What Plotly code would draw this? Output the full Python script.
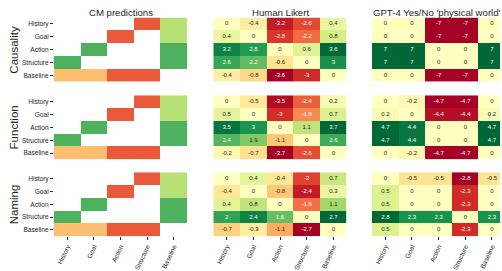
import plotly.graph_objects as go

labels = ["History", "Goal", "Action", "Structure", "Baseline"]
row_names = ["Causality", "Function", "Naming"]
panel_titles = ["CM predictions", "Human Likert", "GPT-4 Yes/No 'physical world'"]

N = None
cm_pred = [
    [N, N, N, -1, 0.5],
    [N, N, -1, N, 0.5],
    [N, 1, N, N, 1],
    [1, N, N, N, 1],
    [-0.5, -0.5, -1, -1, N],
]
cm_range = 1.5

human_causality = [
    [0, -0.4, -3.2, -2.6, 0.4],
    [0.4, 0, -2.8, -2.2, 0.8],
    [3.2, 2.8, 0, 0.6, 3.6],
    [2.6, 2.2, -0.6, 0, 3],
    [-0.4, -0.8, -3.6, -3, 0],
]
human_function = [
    [0, -0.5, -3.5, -2.4, 0.2],
    [0.5, 0, -3, -1.9, 0.7],
    [3.5, 3, 0, 1.1, 3.7],
    [2.4, 1.9, -1.1, 0, 2.6],
    [-0.2, -0.7, -3.7, -2.6, 0],
]
human_naming = [
    [0, 0.4, -0.4, -2, 0.7],
    [-0.4, 0, -0.8, -2.4, 0.3],
    [0.4, 0.8, 0, -1.6, 1.1],
    [2, 2.4, 1.6, 0, 2.7],
    [-0.7, -0.3, -1.1, -2.7, 0],
]
gpt_causality = [
    [0, 0, -7, -7, 0],
    [0, 0, -7, -7, 0],
    [7, 7, 0, 0, 7],
    [7, 7, 0, 0, 7],
    [0, 0, -7, -7, 0],
]
gpt_function = [
    [0, -0.2, -4.7, -4.7, 0],
    [0.2, 0, -4.4, -4.4, 0.2],
    [4.7, 4.4, 0, 0, 4.7],
    [4.7, 4.4, 0, 0, 4.7],
    [0, -0.2, -4.7, -4.7, 0],
]
gpt_naming = [
    [0, -0.5, -0.5, -2.8, -0.5],
    [0.5, 0, 0, -2.3, 0],
    [0.5, 0, 0, -2.3, 0],
    [2.8, 2.3, 2.3, 0, 2.3],
    [0.5, 0, 0, -2.3, 0],
]

panels = [
    [cm_pred, human_causality, gpt_causality],
    [cm_pred, human_function, gpt_function],
    [cm_pred, human_naming, gpt_naming],
]

RDYLGN = ["#a50026", "#d73027", "#f46d43", "#fdae61", "#fee08b", "#ffffbf",
          "#d9ef8b", "#a6d96a", "#66bd63", "#1a9850", "#006837"]
colorscale = [[i / 10, c] for i, c in enumerate(RDYLGN)]


def hex2rgb(h):
    return tuple(int(h[i:i + 2], 16) for i in (1, 3, 5))


def color_at(t):
    t = min(max(t, 0.0), 1.0)
    k = min(int(t * 10), 9)
    f = t * 10 - k
    a, b = hex2rgb(RDYLGN[k]), hex2rgb(RDYLGN[k + 1])
    return tuple(a[j] + (b[j] - a[j]) * f for j in range(3))


def luminance(rgb):
    out = []
    for c in rgb:
        c = c / 255
        out.append(c / 12.92 if c <= 0.03928 else ((c + 0.055) / 1.055) ** 2.4)
    return 0.2126 * out[0] + 0.7152 * out[1] + 0.0722 * out[2]


W, H = 502, 271
FONT = "Liberation Sans, Arial, sans-serif"
DARK = "#262626"

col_px = [(54, 187), (213.3, 346.7), (372, 500)]
row_px = [(17.7, 82.3), (96, 160.7), (173.5, 238)]

fig = go.Figure()
annotations = []

idx = 0
for r in range(3):
    for c in range(3):
        idx += 1
        xa = "x" if idx == 1 else f"x{idx}"
        ya = "y" if idx == 1 else f"y{idx}"
        z = panels[r][c]
        if c == 0:
            vmax = cm_range
        else:
            vmax = max(abs(v) for row in z for v in row)
        fig.add_trace(go.Heatmap(
            z=z, x=labels, y=labels, xaxis=xa, yaxis=ya,
            colorscale=colorscale, zmin=-vmax, zmax=vmax,
            showscale=False, hoverinfo="skip", xgap=0, ygap=0,
        ))
        if c > 0:
            tx, ty, tt, tc = [], [], [], []
            for i, row in enumerate(z):
                for j, v in enumerate(row):
                    tx.append(labels[j])
                    ty.append(labels[i])
                    tt.append(f"{v:g}")
                    lum = luminance(color_at(0.5 + v / (2 * vmax)))
                    tc.append(DARK if lum > 0.408 else "white")
            fig.add_trace(go.Scatter(
                x=tx, y=ty, text=tt, mode="text", xaxis=xa, yaxis=ya,
                textfont=dict(size=6, color=tc, family=FONT),
                hoverinfo="skip", showlegend=False,
            ))
        x0, x1 = col_px[c]
        y0, y1 = row_px[r]
        xrange = [-0.5, 4.5] if c < 2 else [-0.5, 4.5 - (505.3 - x1) / 26.67]
        fig.layout[("xaxis" if idx == 1 else f"xaxis{idx}")] = dict(
            domain=[x0 / W, x1 / W], anchor=ya, type="category",
            categoryorder="array", categoryarray=labels,
            range=xrange, showgrid=False, zeroline=False, showline=False,
            showticklabels=(r == 2), ticks="outside" if r == 2 else "",
            ticklen=3, tickwidth=1, tickcolor=DARK, tickangle=-65,
            tickfont=dict(size=6.6, color=DARK, family=FONT),
        )
        fig.layout[("yaxis" if idx == 1 else f"yaxis{idx}")] = dict(
            domain=[1 - y1 / H, 1 - y0 / H], anchor=xa, type="category",
            categoryorder="array", categoryarray=labels,
            range=[4.5, -0.5], showgrid=False, zeroline=False, showline=False,
            showticklabels=(c == 0), ticks="outside" if c == 0 else "",
            ticklen=3, tickwidth=1, tickcolor=DARK,
            tickfont=dict(size=6.6, color=DARK, family=FONT),
        )

for c, t in enumerate(panel_titles):
    x0, x1 = col_px[c]
    if c == 2:
        x1 = 502
    annotations.append(dict(
        text=t, x=(x0 + x1) / 2 / W, y=1 - 12.5 / H, xref="paper", yref="paper",
        xanchor="center", yanchor="middle", showarrow=False,
        font=dict(size=9.6, color=DARK, family=FONT),
    ))
for r, t in enumerate(row_names):
    y0, y1 = row_px[r]
    annotations.append(dict(
        text=t, x=14 / W, y=1 - (y0 + y1) / 2 / H, xref="paper", yref="paper",
        xanchor="center", yanchor="middle", showarrow=False, textangle=-90,
        font=dict(size=11.5, color=DARK, family=FONT),
    ))

fig.update_layout(
    width=W, height=H, margin=dict(l=0, r=0, t=0, b=0),
    paper_bgcolor="white", plot_bgcolor="white",
    showlegend=False, annotations=annotations,
    font=dict(family=FONT, color=DARK),
)

fig.write_html(
    "out.html",
    config={"displayModeBar": False, "staticPlot": True},
    post_script="document.body.style.margin='0px';document.body.style.padding='0px';document.body.style.overflow='hidden';",
)
